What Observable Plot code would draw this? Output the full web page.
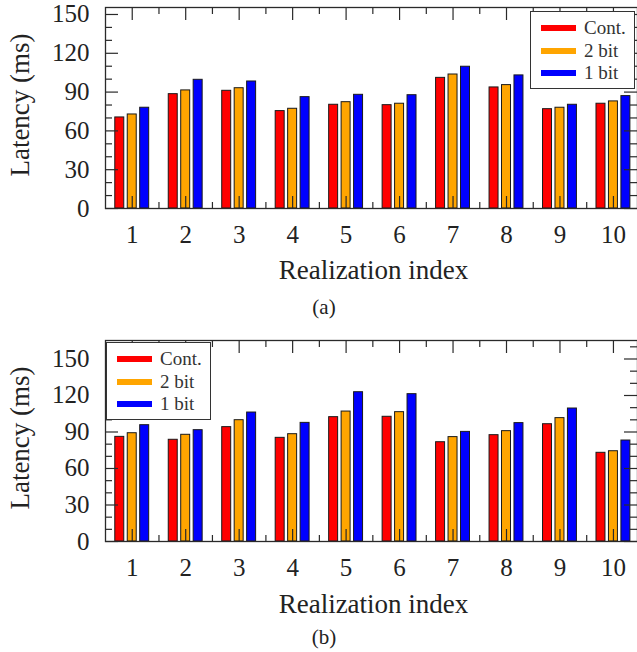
<!DOCTYPE html>
<html>
<head>
<meta charset="utf-8">
<script src="https://cdn.jsdelivr.net/npm/d3@7"></script>
<script src="https://cdn.jsdelivr.net/npm/@observablehq/plot@0.6"></script>
<style>
  html, body { margin: 0; padding: 0; background: #fff; }
  #page { position: relative; width: 637px; height: 652px; overflow: hidden; font-family: "Liberation Serif", "DejaVu Serif", serif; color: #222; }
  #page svg, #page svg text { font-family: "Liberation Serif", "DejaVu Serif", serif !important; }
  .panel { position: absolute; left: 0; }
  .caption { position: absolute; left: 0; width: 648px; text-align: center; font-size: 21px; line-height: 24px; }
  .legend { position: absolute; width: 105px; height: 78px; border: 1.2px solid #333; background: #fff; box-sizing: border-box; }
  .legend .item { position: absolute; left: 0; height: 22px; width: 100%; }
  .legend .sw { position: absolute; left: 10px; width: 35px; height: 6px; top: 8px; }
  .legend .lab { position: absolute; left: 53px; top: 0; font-size: 19px; line-height: 22px; color: #333; }
</style>
</head>
<body>
<div id="page">
  <div class="panel" id="pa" style="top:0px"></div>
  <div class="caption" style="top:295px">(a)</div>
  <div class="panel" id="pb" style="top:330px"></div>
  <div class="caption" style="top:625px">(b)</div>
</div>
<script>
// ---- data ----
const categories = [1, 2, 3, 4, 5, 6, 7, 8, 9, 10];
const series = ["Cont.", "2 bit", "1 bit"];
const colors = ["#ff0000", "#ffa500", "#0000ff"];

// panel (a)
const aCont = [70.4, 88.4, 91.0, 75.3, 80.2, 79.9, 101.0, 93.6, 76.8, 81.0];
const a2bit = [72.7, 91.3, 93.0, 77.1, 82.2, 81.0, 103.6, 95.4, 77.9, 82.8];
const a1bit = [77.9, 99.5, 98.2, 86.1, 87.9, 87.6, 109.6, 102.9, 80.2, 86.9];

// panel (b)
const bCont = [86.0, 83.6, 94.0, 85.2, 102.2, 102.5, 81.6, 87.4, 96.4, 72.9];
const b2bit = [89.0, 87.7, 99.7, 88.2, 106.8, 106.3, 85.8, 90.7, 101.4, 74.2];
const b1bit = [95.6, 91.5, 106.0, 97.5, 122.7, 121.1, 90.1, 97.3, 109.3, 83.0];

const yTickLabels = [0, 30, 60, 90, 120, 150];
const xLabel = "Realization index";
const yLabel = "Latency (ms)";

// ---- helpers ----
const FONT = "Liberation Serif, DejaVu Serif, serif";
const W = 637, H = 290, ML = 105, MR = 0;
const innerW = W - ML - MR;
const offsets = [-0.233, 0, 0.233];
const halfW = 0.084;

function table(vals) {
  return categories.flatMap((c, i) => series.map((s, j) => ({cat: c, series: s, j, value: vals[j][i]})));
}

function panel(vals, yMax, marginTop, marginBottom, minorMax, titleDy) {
  const innerH = H - marginTop - marginBottom;
  const data = table(vals);
  const majors = yTickLabels;
  const minors = d3.range(10, minorMax + 1, 10).filter(v => v % 30 !== 0);
  const mids = categories.slice(0, -1).map(c => c + 0.5);
  const stroke = "#2a2a2a";
  return Plot.plot({
    width: W, height: H,
    marginLeft: ML, marginRight: MR, marginTop, marginBottom,
    style: {fontFamily: FONT, fontSize: "25px", color: "#222", background: "#fff"},
    x: {type: "linear", domain: [0.5, 10.45], axis: null},
    y: {domain: [0, yMax], axis: null},
    color: {domain: series, range: colors},
    marks: [
      Plot.rectY(data, {
        x1: d => d.cat + offsets[d.j] - halfW,
        x2: d => d.cat + offsets[d.j] + halfW,
        y1: 0, y2: "value",
        fill: "series", stroke: "#1a1a1a", strokeWidth: 1
      }),
      // x ticks (inward), bottom and top
      Plot.tickX(categories, {x: d => d, insetTop: innerH - 12, stroke, strokeWidth: 1.2}),
      Plot.tickX(categories, {x: d => d, insetBottom: innerH - 13, stroke, strokeWidth: 1.2}),
      Plot.tickX(mids, {x: d => d, insetTop: innerH - 6, stroke, strokeWidth: 1.2}),
      Plot.tickX(mids, {x: d => d, insetBottom: innerH - 7, stroke, strokeWidth: 1.2}),
      // y ticks (inward), left and right
      Plot.tickY(majors, {y: d => d, insetRight: innerW - 13, stroke, strokeWidth: 1.2}),
      Plot.tickY(majors, {y: d => d, insetLeft: innerW - 13, stroke, strokeWidth: 1.2}),
      Plot.tickY(minors, {y: d => d, insetRight: innerW - 7, stroke, strokeWidth: 1.2}),
      Plot.tickY(minors, {y: d => d, insetLeft: innerW - 7, stroke, strokeWidth: 1.2}),
      Plot.frame({stroke, strokeWidth: 1.3}),
      Plot.axisX({ticks: categories, tickSize: 0, tickPadding: 17, label: null, fontSize: 25, fontFamily: FONT, fill: "#222"}),
      Plot.axisY({ticks: majors, tickSize: 0, tickPadding: 16, label: null, fontSize: 25, fontFamily: FONT, fill: "#222"}),
      Plot.text([xLabel], {frameAnchor: "bottom", dx: 2, dy: titleDy, lineAnchor: "bottom", textAnchor: "middle", fontSize: 27, fontFamily: FONT, fill: "#222"}),
      Plot.text([yLabel], {frameAnchor: "left", dx: -85, dy: -3, rotate: -90, lineAnchor: "middle", textAnchor: "middle", fontSize: 27, fontFamily: FONT, fill: "#222"})
    ]
  });
}

function legend(left, top) {
  const el = document.createElement("div");
  el.className = "legend";
  el.style.left = left + "px";
  el.style.top = top + "px";
  series.forEach((s, j) => {
    const it = document.createElement("div");
    it.className = "item";
    it.style.top = (5 + j * 22.5) + "px";
    const sw = document.createElement("div");
    sw.className = "sw";
    sw.style.background = colors[j];
    const lab = document.createElement("div");
    lab.className = "lab";
    lab.textContent = s;
    it.appendChild(sw); it.appendChild(lab);
    el.appendChild(it);
  });
  return el;
}

const pa = document.getElementById("pa");
pa.appendChild(panel([aCont, a2bit, a1bit], 155.4, 7, 82, 150, 70));
pa.appendChild(legend(530, 11));

const pb = document.getElementById("pb");
pb.appendChild(panel([bCont, b2bit, b1bit], 165.2, 10, 79, 160, 71));
pb.appendChild(legend(106, 12));
</script>
</body>
</html>
